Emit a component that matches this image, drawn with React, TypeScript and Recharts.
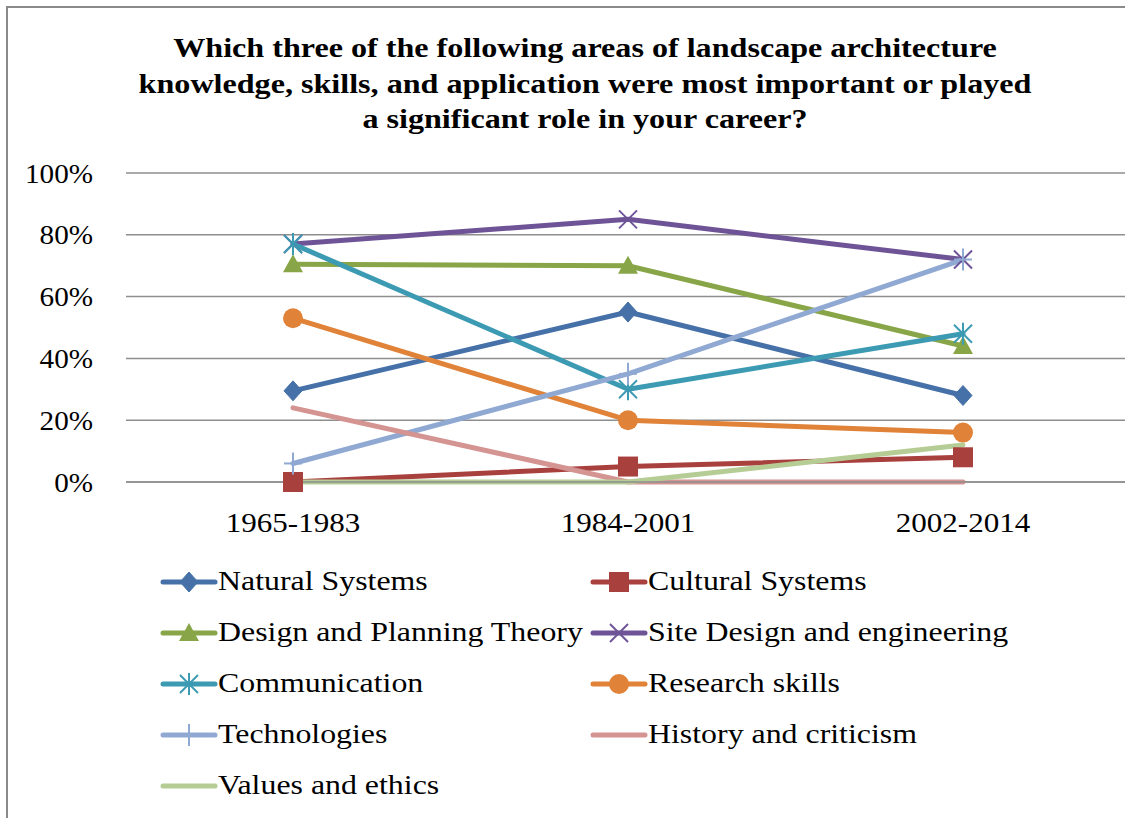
import React from "react";
import { LineChart, Line, XAxis, YAxis, CartesianGrid } from "recharts";

const categories = ["1965-1983", "1984-2001", "2002-2014"];
const naturalSystems = [29.5, 55, 28];
const culturalSystems = [0, 5, 8];
const designPlanning = [70.5, 70, 44];
const siteDesign = [77, 85, 72];
const communication = [77, 30, 48];
const researchSkills = [53, 20, 16];
const technologies = [6, 35, 72];
const historyCriticism = [24, 0, 0];
const valuesEthics = [0, 0, 12];
const yTicks = [0, 20, 40, 60, 80, 100];
const titleLines = [
  "Which three of the following areas of landscape architecture",
  "knowledge, skills, and application were most important or played",
  "a significant role in your career?",
];

type Marker = "diamond" | "square" | "triangle" | "x" | "asterisk" | "circle" | "plus" | "none";

const seriesDefs: { key: string; name: string; values: number[]; color: string; marker: Marker }[] = [
  { key: "ns", name: "Natural Systems", values: naturalSystems, color: "#4671A8", marker: "diamond" },
  { key: "cs", name: "Cultural Systems", values: culturalSystems, color: "#A8403E", marker: "square" },
  { key: "dp", name: "Design and Planning Theory", values: designPlanning, color: "#88A648", marker: "triangle" },
  { key: "sd", name: "Site Design and engineering", values: siteDesign, color: "#6E5497", marker: "x" },
  { key: "co", name: "Communication", values: communication, color: "#3C9AB2", marker: "asterisk" },
  { key: "rs", name: "Research skills", values: researchSkills, color: "#E08238", marker: "circle" },
  { key: "te", name: "Technologies", values: technologies, color: "#90A9D3", marker: "plus" },
  { key: "hc", name: "History and criticism", values: historyCriticism, color: "#D49492", marker: "none" },
  { key: "ve", name: "Values and ethics", values: valuesEthics, color: "#B5CD95", marker: "none" },
];

const data = categories.map((c, i) => {
  const row: Record<string, string | number> = { cat: c };
  seriesDefs.forEach((s) => {
    row[s.key] = s.values[i];
  });
  return row;
});

const FONT = '"Liberation Serif", "Times New Roman", serif';

function markerShape(marker: Marker, color: string, cx: number, cy: number, key?: string) {
  switch (marker) {
    case "diamond":
      return <polygon key={key} points={`${cx},${cy - 10} ${cx + 9},${cy} ${cx},${cy + 10} ${cx - 9},${cy}`} fill={color} stroke={color} strokeWidth={1} />;
    case "square":
      return <rect key={key} x={cx - 10} y={cy - 10} width={20} height={20} fill={color} />;
    case "triangle":
      return <polygon key={key} points={`${cx},${cy - 10} ${cx + 10},${cy + 8} ${cx - 10},${cy + 8}`} fill={color} />;
    case "x":
      return (
        <g key={key} stroke={color} strokeWidth={2}>
          <line x1={cx - 9} y1={cy - 9} x2={cx + 9} y2={cy + 9} />
          <line x1={cx - 9} y1={cy + 9} x2={cx + 9} y2={cy - 9} />
        </g>
      );
    case "asterisk":
      return (
        <g key={key} stroke={color} strokeWidth={2}>
          <line x1={cx - 9} y1={cy - 9} x2={cx + 9} y2={cy + 9} />
          <line x1={cx - 9} y1={cy + 9} x2={cx + 9} y2={cy - 9} />
          <line x1={cx} y1={cy - 11} x2={cx} y2={cy + 11} />
        </g>
      );
    case "circle":
      return <circle key={key} cx={cx} cy={cy} r={10} fill={color} />;
    case "plus":
      return (
        <g key={key} stroke={color} strokeWidth={2}>
          <line x1={cx} y1={cy - 11} x2={cx} y2={cy + 11} />
          <line x1={cx - 9} y1={cy} x2={cx + 9} y2={cy} />
        </g>
      );
    default:
      return <g key={key} />;
  }
}

function makeDot(marker: Marker, color: string) {
  return (props: any) => {
    const { cx, cy, index } = props;
    if (cx == null || cy == null) return <g key={`d-${index}`} />;
    return markerShape(marker, color, cx, cy, `d-${marker}-${index}`);
  };
}

function XTick(props: any) {
  const { x, y, payload } = props;
  return (
    <g transform={`translate(${x},${y})`}>
      <text transform="scale(1.15,1)" textAnchor="middle" dy="0.71em" fontFamily={FONT} fontSize={27} fill="#000">
        {payload.value}
      </text>
    </g>
  );
}

function YTick(props: any) {
  const { x, y, payload } = props;
  return (
    <g transform={`translate(${x},${y})`}>
      <text transform="scale(1.08,1)" textAnchor="end" dy="0.355em" fontFamily={FONT} fontSize={27} fill="#000">
        {`${payload.value}%`}
      </text>
    </g>
  );
}

function LegendItem({ s }: { s: (typeof seriesDefs)[number] }) {
  return (
    <div style={{ display: "flex", alignItems: "center", height: 51 }}>
      <svg width={58} height={24} style={{ marginRight: 0 }}>
        <line x1={3} y1={12} x2={55} y2={12} stroke={s.color} strokeWidth={5} strokeLinecap="round" />
        {markerShape(s.marker, s.color, 29, 12)}
      </svg>
      <span
        style={{
          display: "inline-block",
          fontFamily: FONT,
          fontSize: 27,
          color: "#000",
          whiteSpace: "nowrap",
          transform: "scaleX(1.18)",
          transformOrigin: "left center",
        }}
      >
        {s.name}
      </span>
    </div>
  );
}

export default function App() {
  const rows: (typeof seriesDefs)[] = [];
  for (let i = 0; i < seriesDefs.length; i += 2) rows.push(seriesDefs.slice(i, i + 2));
  return (
    <div style={{ position: "fixed", left: 0, top: 0, width: 1125, height: 818, overflow: "hidden", background: "#fff" }}>
      <div
        style={{
          position: "absolute",
          left: 6,
          top: 6,
          width: 1300,
          height: 1000,
          borderLeft: "2px solid #8a8a8a",
          borderTop: "2px solid #8a8a8a",
        }}
      />
      <div
        style={{
          position: "absolute",
          left: 0,
          top: 30,
          width: 1170,
          textAlign: "center",
          fontFamily: FONT,
          fontWeight: "bold",
          fontSize: 28,
          lineHeight: "35.5px",
          color: "#000",
          transform: "scaleX(1.147)",
          transformOrigin: "585px 0",
        }}
      >
        {titleLines.map((t, i) => (
          <div key={i}>{t}</div>
        ))}
      </div>
      <div style={{ position: "absolute", left: 0, top: 0 }}>
        <LineChart width={1140} height={818} data={data} margin={{ top: 173, right: 10, left: 0, bottom: 276 }}>
          <CartesianGrid horizontal vertical={false} stroke="#8e8e8e" strokeWidth={1.5} />
          <XAxis
            dataKey="cat"
            height={60}
            padding={{ left: 167, right: 167 }}
            axisLine={{ stroke: "#8e8e8e", strokeWidth: 1.5 }}
            tickLine={false}
            tickSize={0}
            tickMargin={31}
            tick={<XTick />}
          />
          <YAxis
            width={126}
            domain={[0, 100]}
            ticks={yTicks}
            axisLine={false}
            tickLine={false}
            tickSize={0}
            tickMargin={33}
            tick={<YTick />}
          />
          {seriesDefs.map((s) => (
            <Line
              key={s.key}
              dataKey={s.key}
              name={s.name}
              stroke={s.color}
              strokeWidth={5}
              strokeLinecap="round"
              strokeLinejoin="round"
              type="linear"
              dot={makeDot(s.marker, s.color)}
              activeDot={false}
              isAnimationActive={false}
            />
          ))}
        </LineChart>
      </div>
      <div style={{ position: "absolute", left: 160, top: 556 }}>
        {rows.map((r, i) => (
          <div key={i} style={{ display: "flex" }}>
            <div style={{ width: 430 }}>
              <LegendItem s={r[0]} />
            </div>
            {r[1] && <LegendItem s={r[1]} />}
          </div>
        ))}
      </div>
    </div>
  );
}
